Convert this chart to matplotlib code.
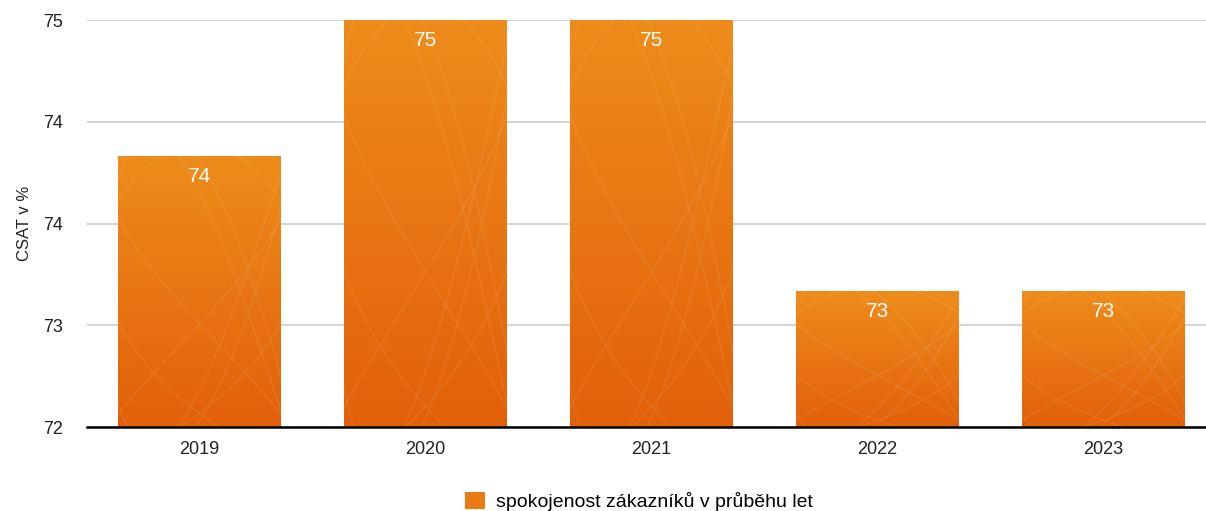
import matplotlib
matplotlib.use('Agg')
import matplotlib.pyplot as plt
import numpy as np
from matplotlib.colors import LinearSegmentedColormap
from matplotlib.patches import Patch

years = ["2019", "2020", "2021", "2022", "2023"]
csat = [74, 75, 75, 73, 73]
yticks = [72, 72.75, 73.5, 74.25, 75]
series_name = "spokojenost zákazníků v průběhu let"

plt.rcParams['font.family'] = ['Liberation Sans', 'DejaVu Sans']

fig = plt.figure(figsize=(12.06, 5.11), dpi=100, facecolor="white")
ax = fig.add_axes([86.5 / 1206, 84 / 511, 1130 / 1206, 407 / 511])
ax.set_xlim(-0.5, len(years) - 0.5)
ax.set_ylim(72, 75)

grad = LinearSegmentedColormap.from_list("og", ["#e2600a", "#ee8c1b"])
bars = ax.bar(range(len(years)), csat, width=0.72, bottom=0, color="none", edgecolor="none", zorder=2)

# squiggle texture (purely decorative)
t = np.linspace(0, 2 * np.pi, 600)
for b, v in zip(bars, csat):
    x0 = b.get_x()
    w = b.get_width()
    img = np.linspace(0, 1, 256).reshape(-1, 1)
    im = ax.imshow(img, cmap=grad, origin="lower", aspect="auto",
                   extent=(x0, x0 + w, 72, v), vmin=0, vmax=1, zorder=2)
    im.set_clip_path(b)
    h = v - 72
    for k, (a, c, ph) in enumerate([(3, 2, 0.3), (2, 3, 1.1)]):
        xs = x0 + w * (0.5 + 0.6 * np.sin(a * t + ph))
        ys = 72 + h * (0.5 + 0.6 * np.sin(c * t + k))
        ln, = ax.plot(xs, ys, color="white", alpha=0.08, lw=1.0, zorder=3)
        ln.set_clip_path(b)
    ax.text(b.get_x() + w / 2, v - 0.08, f"{v}", ha="center", va="top",
            color="white", fontsize=15, zorder=4)

ax.set_xticks(range(len(years)))
ax.set_xticklabels(years)
ax.set_yticks(yticks)
ax.set_yticklabels([f"{v:.0f}" for v in yticks])
ax.tick_params(axis="both", length=0, labelsize=13, colors="#222222")
ax.tick_params(axis="x", pad=10)
ax.tick_params(axis="y", pad=17)
ax.yaxis.grid(True, color="#cccccc", lw=1.2, zorder=0)
ax.set_axisbelow(True)
for s in ["top", "right", "left"]:
    ax.spines[s].set_visible(False)
ax.spines["bottom"].set_linewidth(1.8)
ax.spines["bottom"].set_color("black")
ax.spines["bottom"].set_zorder(5)
ax.set_ylabel("CSAT v %", fontsize=12, color="#222222", labelpad=8)

handle = Patch(facecolor="#e97a14", edgecolor="none")
fig.legend([handle], [series_name], loc="lower center", bbox_to_anchor=(0.53, -0.035),
           frameon=False, fontsize=14, handlelength=1.0, handleheight=1.0, handletextpad=0.6)

plt.savefig("out.png", dpi=100, facecolor="white")
